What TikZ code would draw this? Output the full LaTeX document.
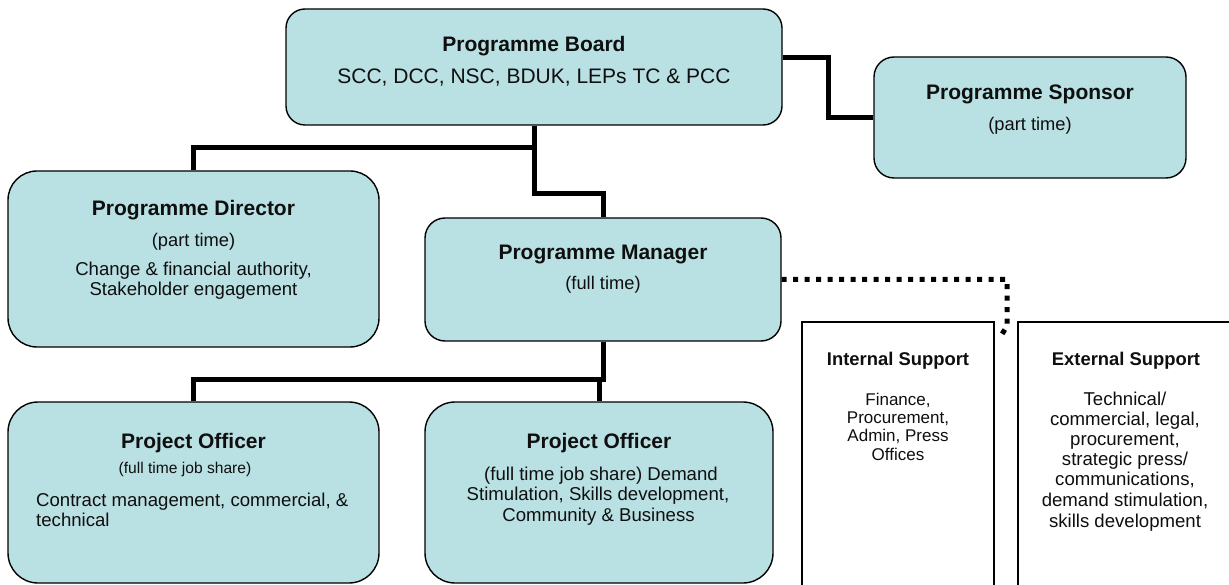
\documentclass[tikz,border=0pt]{standalone}
\usepackage{fontspec}
\setmainfont{Liberation Sans}
\definecolor{boxc}{RGB}{185,224,227}
\definecolor{txtc}{RGB}{15,15,15}
\begin{document}
\begin{tikzpicture}[x=1pt,y=-1pt,
  rbox/.style={draw=black, line width=1.4pt, fill=boxc, rectangle, inner sep=0pt, rounded corners=#1},
  sbox/.style={draw=black, line width=1.6pt, fill=white, rectangle, inner sep=0pt},
  conn/.style={line width=5pt, draw=black, line join=miter},
  dotconn/.style={line width=5pt, draw=black, dash pattern=on 5pt off 6.5pt},
  tb/.style={font=\fontsize{21}{24}\selectfont\bfseries, text=txtc, anchor=base, inner sep=0pt},
  tbig/.style={font=\fontsize{21}{24}\selectfont, text=txtc, anchor=base, inner sep=0pt},
  tr/.style={font=\fontsize{18.6}{21}\selectfont, text=txtc, anchor=base, inner sep=0pt},
  tp/.style={font=\fontsize{18.3}{21}\selectfont, text=txtc, anchor=base, inner sep=0pt},
  tsm/.style={font=\fontsize{15.6}{18}\selectfont, text=txtc, anchor=base, inner sep=0pt},
  tsb/.style={font=\fontsize{18.4}{21}\selectfont\bfseries, text=txtc, anchor=base, inner sep=0pt},
  tsi/.style={font=\fontsize{17}{19}\selectfont, text=txtc, anchor=base, inner sep=0pt},
  tse/.style={font=\fontsize{18.6}{21}\selectfont, text=txtc, anchor=base, inner sep=0pt}]
\useasboundingbox[fill=white] (0,0) rectangle (1229,585);

% boxes
\node[rbox=19pt, minimum width=496pt, minimum height=116pt] (board) at (534,67) {};
\node[rbox=20pt, minimum width=312pt, minimum height=121pt] (spon) at (1030,117.5) {};
\node[rbox=29pt, minimum width=371pt, minimum height=176pt] (dir) at (193.5,259) {};
\node[rbox=20pt, minimum width=356pt, minimum height=123pt] (mgr) at (603,279.5) {};
\node[rbox=30pt, minimum width=371pt, minimum height=181pt] (po1) at (193.5,492.5) {};
\node[rbox=30pt, minimum width=348pt, minimum height=181pt] (po2) at (599,492.5) {};
\node[sbox, minimum width=192pt, minimum height=290pt] (int) at (898,467) {};
\node[sbox, minimum width=217pt, minimum height=290pt] (ext) at (1126.5,467) {};

% connectors
\coordinate (j1) at (534,148);
\coordinate (j2) at (534,194);
\coordinate (j3) at (828,58);
\coordinate (j4) at (603,379);
\coordinate (j5) at (1007,279.5);
\coordinate (j6) at (1007,326);
\coordinate (dend) at (1001.5,335);
\draw[conn] (board.south) -- (j1) -| (dir.north);
\draw[conn] (j1) -- (j2) -| (mgr.north);
\draw[conn] (j3 -| board.east) -- (j3) |- (spon.west);
\draw[conn] (mgr.south) -- (j4) -| (po1.north);
\draw[conn] (j4 -| po2.north) -- (po2.north);
\draw[dotconn] (mgr.east) -- (j5) -- (j6) -- (dend);

% texts
\node[tb] (t1) at (534,52) {Programme Board};
\node[tbig] (t2) at (534,83.3) {SCC, DCC, NSC, BDUK, LEPs TC \& PCC};

\node[tb] (t3) at (1030,99.5) {Programme Sponsor};
\node[tp] (t4) at (1030,130.7) {(part time)};

\node[tb] (t5) at (193.5,215.7) {Programme Director};
\node[tp] (t6) at (193.5,246.7) {(part time)};
\node[tr] (t7) at (193.5,276) {Change \& financial authority,};
\node[tr] (t8) at (193.5,295.7) {Stakeholder engagement};

\node[tb] (t9) at (603,260) {Programme Manager};
\node[tp] (t10) at (603,289.3) {(full time)};

\node[tb] (t11) at (193.5,448.3) {Project Officer};
\node[tsm] (t12) at (185,473) {(full time job share)};
\node[tr, anchor=base west] (t13) at (36,506.7) {Contract management, commercial, \&};
\node[tr, anchor=base west] (t14) at (36,526.7) {technical};

\node[tb] (t15) at (599,448.3) {Project Officer};
\node[tr] (t16) at (601,480) {(full time job share) Demand};
\node[tr] (t17) at (598,500.5) {Stimulation, Skills development,};
\node[tr] (t18) at (598.5,521.5) {Community \& Business};

\node[tsb] (t19) at (898,365) {Internal Support};
\node[tsi] (t20) at (898,405) {Finance,};
\node[tsi] (t21) at (898,423.3) {Procurement,};
\node[tsi] (t22) at (898,441.7) {Admin, Press};
\node[tsi] (t23) at (898,460) {Offices};

\node[tsb] (t24) at (1126,365) {External Support};
\node[tse] (t25) at (1125,405) {Technical/};
\node[tse] (t26) at (1125,425) {commercial, legal,};
\node[tse] (t27) at (1125,445) {procurement,};
\node[tse] (t28) at (1125,465) {strategic press/};
\node[tse] (t29) at (1125,485.5) {communications,};
\node[tse] (t30) at (1125,506.5) {demand stimulation,};
\node[tse] (t31) at (1125,527.5) {skills development};
\end{tikzpicture}
\end{document}
